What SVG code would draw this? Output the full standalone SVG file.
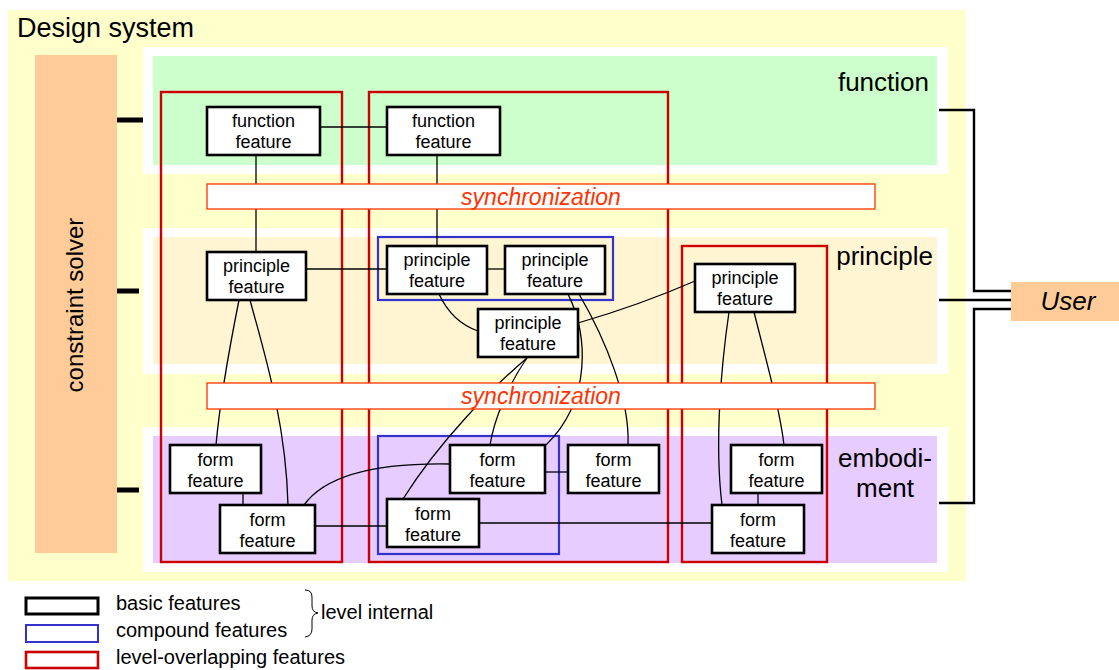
<svg xmlns="http://www.w3.org/2000/svg" width="1119" height="670" viewBox="0 0 1119 670">
  <style>
    text { font-family: "Liberation Sans", Arial, sans-serif; fill: #000; }
    .feat rect { fill: #fff; stroke: #000; stroke-width: 2.6; }
    .feat text { font-size: 18px; text-anchor: middle; }
    .overlap { fill: none; stroke: #cc0000; stroke-width: 2.4; }
    .compound { fill: none; stroke: #3333cc; stroke-width: 2.2; }
    .sync rect { fill: #fff; stroke: #ff3300; stroke-width: 1.3; }
    .sync text { font-size: 23px; font-style: italic; fill: #ff3300; text-anchor: middle; }
    .conn path, .conn line { fill: none; stroke: #000; stroke-width: 1.3; }
    .stub { stroke: #000; stroke-width: 5; }
    .ulink { fill: none; stroke: #000; stroke-width: 2.4; }
    .panel-label { font-size: 26px; }
    .legend text { font-size: 20px; }
  </style>

  <!-- design system frame -->
  <g id="design-system">
    <rect x="8" y="10" width="958" height="571" fill="#ffffcc"/>
    <text x="17" y="37" font-size="27">Design system</text>
  </g>

  <!-- level panels -->
  <g id="level-function">
    <rect x="143" y="47" width="805" height="127" fill="#fff"/>
    <rect x="153" y="56" width="784" height="109" fill="#ccffcc"/>
    <text class="panel-label" x="929" y="91" text-anchor="end">function</text>
  </g>
  <g id="level-principle">
    <rect x="143" y="228" width="805" height="146" fill="#fff"/>
    <rect x="153" y="237" width="784" height="127" fill="#fff5d3"/>
    <text class="panel-label" x="933" y="265" text-anchor="end">principle</text>
  </g>
  <g id="level-embodiment">
    <rect x="143" y="427" width="805" height="145" fill="#fff"/>
    <rect x="153" y="436" width="784" height="127" fill="#e6ccff"/>
    <text class="panel-label" x="885" y="467" text-anchor="middle">embodi-</text>
    <text class="panel-label" x="885" y="497" text-anchor="middle">ment</text>
  </g>

  <!-- constraint solver -->
  <g id="constraint-solver">
    <rect x="35" y="55" width="82" height="498" fill="#ffcc99"/>
    <text x="0" y="0" font-size="24" text-anchor="middle" transform="translate(83 305) rotate(-90)">constraint solver</text>
    <line class="stub" x1="117" y1="120" x2="143" y2="120"/>
    <line class="stub" x1="117" y1="291" x2="139" y2="291"/>
    <line class="stub" x1="117" y1="490" x2="139" y2="490"/>
  </g>

  <!-- level-overlapping features -->
  <g id="overlap-1"><rect class="overlap" x="161" y="92" width="181" height="470"/></g>
  <g id="overlap-2"><rect class="overlap" x="369" y="92" width="299" height="470"/></g>
  <g id="overlap-3"><rect class="overlap" x="682" y="246" width="145" height="316"/></g>

  <!-- compound features -->
  <g id="compound-principle"><rect class="compound" x="378" y="237" width="235" height="63"/></g>
  <g id="compound-form"><rect class="compound" x="378" y="436" width="181" height="118"/></g>

  <!-- connectors -->
  <g id="connectors" class="conn">
    <line x1="320" y1="127" x2="387" y2="127"/>
    <line x1="256" y1="155" x2="256" y2="252"/>
    <line x1="437" y1="155" x2="437" y2="246"/>
    <line x1="306" y1="269" x2="387" y2="269"/>
    <line x1="487" y1="269" x2="505" y2="269"/>
    <path d="M439,294 Q452,322 478,331"/>
    <path d="M578,323 Q640,305 695,281"/>
    <path d="M568,294 C588,335 592,400 546,445"/>
    <path d="M579,294 C606,340 630,400 628,445"/>
    <path d="M527,358 C495,385 440,440 403,499"/>
    <path d="M527,358 C508,385 494,420 490,445"/>
    <path d="M239,300 C230,345 220,400 216,445"/>
    <path d="M250,300 C262,345 286,420 288,505"/>
    <line x1="243" y1="493" x2="243" y2="505"/>
    <line x1="315" y1="526" x2="387" y2="526"/>
    <path d="M304,505 Q335,462 450,464"/>
    <line x1="545" y1="472" x2="568" y2="472"/>
    <line x1="479" y1="523" x2="712" y2="523"/>
    <path d="M729,312 C722,360 714,440 722,505"/>
    <path d="M754,312 C766,360 780,410 784,445"/>
    <line x1="758" y1="493" x2="758" y2="505"/>
  </g>

  <!-- synchronization bars -->
  <g id="sync-upper" class="sync">
    <rect x="207" y="184" width="668" height="25"/>
    <text x="541" y="205">synchronization</text>
  </g>
  <g id="sync-lower" class="sync">
    <rect x="207" y="383" width="668" height="26"/>
    <text x="541" y="404">synchronization</text>
  </g>

  <!-- basic features: function level -->
  <g id="function-feature-1" class="feat">
    <rect x="207" y="107" width="113" height="48"/>
    <text x="263.5" y="127">function</text><text x="263.5" y="148">feature</text>
  </g>
  <g id="function-feature-2" class="feat">
    <rect x="387" y="107" width="113" height="48"/>
    <text x="443.5" y="127">function</text><text x="443.5" y="148">feature</text>
  </g>

  <!-- basic features: principle level -->
  <g id="principle-feature-1" class="feat">
    <rect x="207" y="252" width="99" height="48"/>
    <text x="256.5" y="272">principle</text><text x="256.5" y="293">feature</text>
  </g>
  <g id="principle-feature-2" class="feat">
    <rect x="387" y="246" width="100" height="48"/>
    <text x="437" y="266">principle</text><text x="437" y="287">feature</text>
  </g>
  <g id="principle-feature-3" class="feat">
    <rect x="505" y="246" width="100" height="48"/>
    <text x="555" y="266">principle</text><text x="555" y="287">feature</text>
  </g>
  <g id="principle-feature-4" class="feat">
    <rect x="478" y="309" width="100" height="48"/>
    <text x="528" y="329">principle</text><text x="528" y="350">feature</text>
  </g>
  <g id="principle-feature-5" class="feat">
    <rect x="695" y="264" width="100" height="48"/>
    <text x="745" y="284">principle</text><text x="745" y="305">feature</text>
  </g>

  <!-- basic features: embodiment level -->
  <g id="form-feature-1" class="feat">
    <rect x="170" y="445" width="91" height="48"/>
    <text x="215.5" y="466">form</text><text x="215.5" y="487">feature</text>
  </g>
  <g id="form-feature-2" class="feat">
    <rect x="220" y="505" width="95" height="48"/>
    <text x="267.5" y="526">form</text><text x="267.5" y="547">feature</text>
  </g>
  <g id="form-feature-3" class="feat">
    <rect x="450" y="445" width="95" height="48"/>
    <text x="497.5" y="466">form</text><text x="497.5" y="487">feature</text>
  </g>
  <g id="form-feature-4" class="feat">
    <rect x="387" y="499" width="92" height="48"/>
    <text x="433" y="520">form</text><text x="433" y="541">feature</text>
  </g>
  <g id="form-feature-5" class="feat">
    <rect x="568" y="445" width="91" height="48"/>
    <text x="613.5" y="466">form</text><text x="613.5" y="487">feature</text>
  </g>
  <g id="form-feature-6" class="feat">
    <rect x="731" y="445" width="91" height="48"/>
    <text x="776.5" y="466">form</text><text x="776.5" y="487">feature</text>
  </g>
  <g id="form-feature-7" class="feat">
    <rect x="712" y="505" width="92" height="48"/>
    <text x="758" y="526">form</text><text x="758" y="547">feature</text>
  </g>

  <!-- user and its links to the levels -->
  <g id="user-links">
    <polyline class="ulink" points="939,110 974,110 974,291 1011,291"/>
    <line class="ulink" x1="939" y1="300" x2="1011" y2="300" stroke-width="3.6"/>
    <polyline class="ulink" points="939,503 974,503 974,309 1011,309"/>
  </g>
  <g id="user">
    <rect x="1011" y="282" width="108" height="39" fill="#ffcc99"/>
    <text x="1068" y="310" font-size="26" font-style="italic" text-anchor="middle">User</text>
  </g>

  <!-- legend -->
  <g id="legend" class="legend">
    <rect x="26" y="598" width="72" height="16" fill="#fff" stroke="#000" stroke-width="3"/>
    <rect x="26" y="625" width="72" height="17" fill="#fff" stroke="#3333cc" stroke-width="2"/>
    <rect x="26" y="652" width="72" height="16" fill="#fff" stroke="#cc0000" stroke-width="2.6"/>
    <text x="116" y="610">basic features</text>
    <text x="116" y="637">compound features</text>
    <text x="116" y="664">level-overlapping features</text>
    <path d="M305,590 Q312,590 312,597 L312,606 Q312,612 318,613 Q312,614 312,620 L312,629 Q312,636 305,637" fill="none" stroke="#000" stroke-width="1"/>
    <text x="321" y="619" font-size="21">level internal</text>
  </g>
</svg>
